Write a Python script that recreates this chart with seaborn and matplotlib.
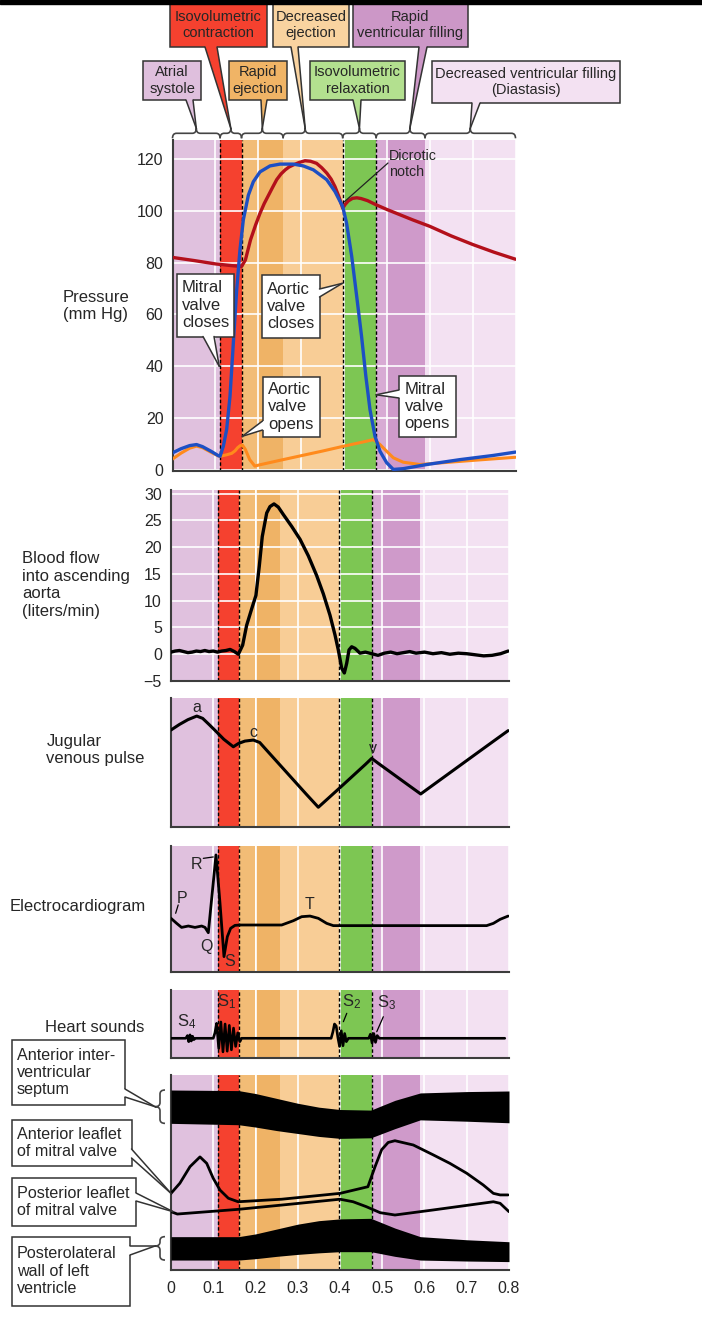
import matplotlib
matplotlib.use('Agg')
import matplotlib.pyplot as plt
from matplotlib.patches import Rectangle, Polygon, PathPatch
from matplotlib.path import Path
import seaborn as sns

# cardiac cycle phases (sec) and background colours
band_edges = [0, 0.111, 0.161, 0.2, 0.258, 0.397, 0.475, 0.5, 0.589, 0.8]
band_colors = ['#e0c1de', '#f5412f', '#f2bc76', '#efb366', '#f8cd96',
               '#7dc653', '#d8abd4', '#cf9aca', '#f3e1f2']
valve_events = [0.111, 0.161, 0.397, 0.475]

phase_labels = ['Atrial\nsystole', 'Isovolumetric\ncontraction', 'Rapid\nejection',
                'Decreased\nejection', 'Isovolumetric\nrelaxation',
                'Rapid\nventricular filling', 'Decreased ventricular filling\n(Diastasis)']
phase_bounds = [0, 0.111, 0.161, 0.258, 0.397, 0.475, 0.589, 0.8]
phase_box_colors = ['#dfbfdd', '#f5412f', '#f0b466', '#f9d3a0', '#b3e08f', '#cc97c7', '#f3e1f2']

time_ticks = [0, 0.1, 0.2, 0.3, 0.4, 0.5, 0.6, 0.7, 0.8]
time_tick_labels = ['0', '0.1', '0.2', '0.3', '0.4', '0.5', '0.6', '0.7', '0.8']
pressure_ticks = [0, 20, 40, 60, 80, 100, 120]
flow_ticks = [-5, 0, 5, 10, 15, 20, 25, 30]

# pressures (mm Hg)
aorta_t = [0, 0.05, 0.1, 0.14, 0.161, 0.17, 0.182, 0.194, 0.204, 0.214, 0.224, 0.234, 0.243, 0.253,
           0.263, 0.272, 0.282, 0.295, 0.309, 0.322, 0.336, 0.348, 0.36, 0.37, 0.379, 0.388, 0.397,
           0.403, 0.41, 0.42, 0.43, 0.44, 0.455, 0.475, 0.5, 0.53, 0.56, 0.6, 0.65, 0.7, 0.75, 0.8]
aorta_p = [82, 80.8, 79.5, 78.8, 78.5, 81, 88.8, 94.6, 99, 102.8, 106, 109.2, 112, 114.2,
           115.8, 116.9, 117.7, 118.6, 119.3, 119.1, 118.3, 116.6, 114.5, 112.2, 109.3, 105.5, 101,
           102.5, 103.8, 104.8, 105, 104.7, 103.9, 102.3, 100.5, 98.5, 96.5, 94, 90.3, 87, 84, 81.3]

lv_t = [0, 0.02, 0.04, 0.056, 0.07, 0.09, 0.107, 0.111, 0.1186, 0.1263, 0.1341, 0.1419, 0.1497,
        0.1574, 0.1652, 0.1769, 0.1885, 0.2041, 0.2274, 0.2507, 0.2818, 0.3051, 0.3285, 0.3596,
        0.379, 0.397, 0.406, 0.418, 0.4296, 0.441, 0.451, 0.4606, 0.4723, 0.484, 0.4995, 0.515,
        0.538, 0.593, 0.671, 0.748, 0.8]
lv_p = [6.6, 8.2, 9.4, 9.8, 9.0, 7.2, 5.5, 5.3, 9.2, 15.6, 28.4, 49, 69.5,
        85, 96.5, 106, 111.2, 115, 117.3, 118, 118, 117.3, 115.8, 112,
        107.4, 101.6, 95.2, 82.4, 67, 51.5, 36.1, 23.3, 13, 7.2, 2.8, 0.2,
        0.5, 2.1, 4, 5.6, 6.9]

atrium_t = [0, 0.02, 0.04, 0.056, 0.07, 0.09, 0.107, 0.111, 0.125, 0.138, 0.146, 0.152, 0.158,
            0.163, 0.17, 0.18, 0.192, 0.204, 0.25, 0.3, 0.35, 0.4, 0.45, 0.468, 0.476, 0.484,
            0.4995, 0.515, 0.538, 0.577, 0.631, 0.709, 0.8]
atrium_p = [4.2, 6.5, 8.4, 9.2, 8.6, 6.8, 5.4, 5.3, 5.8, 6.4, 7.4, 8.6, 9.4,
            9.6, 7.9, 4, 1.5, 2, 3.7, 5.5, 7.3, 9.2, 11, 11.7, 10.9, 9.8,
            7.2, 4.7, 3, 2.1, 2.8, 3.8, 4.9]

# aortic flow (liters/min)
flow_t = [0, 0.01, 0.02, 0.03, 0.04, 0.05, 0.06, 0.07, 0.08, 0.09, 0.1, 0.11, 0.12, 0.13, 0.14, 0.15,
          0.1594, 0.1696, 0.179, 0.191, 0.201, 0.209, 0.216, 0.2265, 0.2343, 0.2438,
          0.254, 0.266, 0.2856, 0.3053, 0.325, 0.3448, 0.3605, 0.3763, 0.3882, 0.396,
          0.404, 0.4103, 0.4158, 0.4213, 0.4276, 0.4355, 0.4473,
          0.46, 0.475, 0.49, 0.505, 0.52, 0.535, 0.55, 0.565, 0.58,
          0.6, 0.62, 0.64, 0.66, 0.68, 0.7, 0.72, 0.74, 0.76, 0.78, 0.798]
flow_v = [0.4, 0.6, 0.7, 0.5, 0.3, 0.4, 0.6, 0.5, 0.7, 0.5, 0.6, 0.4, 0.6, 0.7, 0.9, 0.5,
          0.0, 1.7, 5.4, 8.5, 11, 16.5, 22, 26.4, 27.6, 28.1,
          27.5, 26.1, 23.9, 21.5, 18.4, 14.7, 11.3, 7.3, 3.6, 0.8,
          -2.6, -3.5, -1.7, 0.8, 1.4, 1.1, 0.2,
          0.4, 0.1, -0.2, 0.2, 0.4, 0.1, 0.3, 0.5, 0.2,
          0.4, 0.1, 0.3, 0.0, 0.2, 0.1, -0.1, -0.3, -0.2, 0.1, 0.6]

# jugular venous pulse (relative units)
jvp_t = [0, 0.02, 0.04, 0.061, 0.075, 0.09, 0.107, 0.125, 0.1475, 0.16, 0.175, 0.195, 0.21, 0.23,
         0.26, 0.29, 0.32, 0.3487, 0.37, 0.4, 0.43, 0.46, 0.475, 0.49, 0.52, 0.56, 0.591, 0.62,
         0.66, 0.7, 0.74, 0.77, 0.798]
jvp_v = [75.2, 79.5, 83.2, 86, 84.2, 79.5, 74, 68, 62.2, 64.8, 66.6, 67.4, 65.5, 58.2,
         47.3, 36.4, 25.5, 15.3, 21.6, 30.5, 39.5, 48.5, 53.2, 49.5, 42.4, 32.9, 25.6, 32.5,
         42, 51.5, 61, 68.1, 74.7]

# electrocardiogram (relative units)
ecg_t = [0, 0.0134, 0.025, 0.041, 0.0568, 0.0726, 0.0805, 0.0883, 0.1065, 0.116, 0.1254, 0.1333,
         0.1412, 0.1515, 0.1633, 0.262, 0.2895, 0.3093, 0.329, 0.3487, 0.3685, 0.3842, 0.747,
         0.763, 0.779, 0.798]
ecg_v = [42.6, 38.6, 35.4, 36.5, 35.4, 36.5, 35.4, 31.2, 92.9, 54.5, 12.2, 28,
         34.7, 37, 37.3, 37.3, 40.7, 43.9, 44.4, 42.6, 38.6, 36.8, 36.8,
         38.6, 41.8, 44.4]

# phonocardiogram (relative units)
sound_t = [0, 0.035, 0.039, 0.042, 0.045, 0.048, 0.051, 0.054, 0.058,
           0.1, 0.104, 0.108, 0.113, 0.118, 0.123, 0.128, 0.133, 0.138, 0.143, 0.148,
           0.153, 0.158, 0.163, 0.167,
           0.379, 0.383, 0.387, 0.391, 0.395, 0.399, 0.403, 0.407, 0.411, 0.415, 0.42,
           0.468, 0.472, 0.476, 0.48, 0.484, 0.488, 0.493, 0.79]
sound_v = [29, 29, 33, 24, 34, 25, 32, 27, 29,
           29, 37, 51, 14, 53, 9, 50, 10, 48, 12, 44,
           17, 37, 24, 29,
           29, 38, 50, 47, 30, 17, 40, 18, 36, 24, 29,
           29, 35, 22, 36, 23, 33, 29, 29]

# echocardiogram (relative depth)
septum_t = [0, 0.16, 0.2, 0.25, 0.3, 0.35, 0.4, 0.473, 0.53, 0.59, 0.7, 0.8]
septum_top = [92.3, 92, 90.5, 88, 85.5, 83.5, 82.3, 82, 87, 90.8, 91.5, 91.8]
septum_bottom = [75.2, 74.5, 73.3, 71.5, 70, 68.5, 67.5, 67.8, 72.5, 77, 76.3, 75.5]
wall_t = [0, 0.16, 0.2, 0.25, 0.3, 0.35, 0.4, 0.473, 0.53, 0.59, 0.7, 0.8]
wall_top = [17.1, 17.1, 18.5, 21, 23.5, 25.3, 26.2, 26.5, 21.5, 17.1, 15.5, 14.5]
wall_bottom = [5.1, 5.1, 5.8, 7, 8, 8.8, 9.4, 9.4, 7, 5.1, 4.6, 4.3]
ant_t = [0, 0.021, 0.045, 0.0686, 0.0845, 0.1, 0.116, 0.1357, 0.159, 0.262, 0.4, 0.466, 0.483,
         0.4986, 0.514, 0.53, 0.5735, 0.621, 0.66, 0.7, 0.739, 0.763, 0.779, 0.798]
ant_v = [39.3, 44.5, 53, 58, 54.7, 47, 41, 36.8, 35, 36.3, 39.3, 42.7, 53,
         61.7, 65.4, 66.3, 64.1, 59, 54.7, 49.6, 43.6, 39.3, 38.5, 38.5]
post_t = [0, 0.015, 0.159, 0.262, 0.4, 0.431, 0.462, 0.495, 0.53, 0.621, 0.763, 0.779, 0.8]
post_v = [29.9, 28.7, 31.1, 33.3, 36.3, 35, 32.5, 29.4, 28.2, 30.8, 35, 34.2, 29.9]

sns.set_style('white')
plt.rcParams['font.family'] = ['Liberation Sans', 'DejaVu Sans']
plt.rcParams['mathtext.fontset'] = 'custom'
plt.rcParams['mathtext.rm'] = 'Liberation Sans'

W, H = 702, 1337
fig = plt.figure(figsize=(W / 100, H / 100), dpi=100)


def panel(x0, y0, x1, y1, ygrid=False):
    ax = fig.add_axes([x0 / W, 1 - y1 / H, (x1 - x0) / W, (y1 - y0) / H])
    for t0, t1, c in zip(band_edges[:-1], band_edges[1:], band_colors):
        ax.axvspan(t0, t1, color=c, lw=0, zorder=0)
    for t in valve_events:
        ax.axvline(t, color='black', lw=1.0, ls=(0, (2.5, 1.6)), zorder=2)
    ax.set_xlim(0, 0.8)
    ax.set_xticks(time_ticks)
    ax.tick_params(length=0, labelbottom=False, labelsize=11.5, pad=6.5)
    ax.grid(axis='both' if ygrid else 'x', color='white', lw=1.2)
    ax.set_axisbelow(True)
    for s in ['top', 'right']:
        ax.spines[s].set_visible(False)
    for s in ['left', 'bottom']:
        ax.spines[s].set_color('#3c3c3c')
        ax.spines[s].set_linewidth(1.5)
    return ax


# pressure
ax_p = panel(172.5, 140, 515.5, 471, ygrid=True)
sns.lineplot(x=atrium_t, y=atrium_p, ax=ax_p, color='#ff8a1c', linewidth=2.2, sort=False, estimator=None, zorder=3)
sns.lineplot(x=aorta_t, y=aorta_p, ax=ax_p, color='#b3101b', linewidth=2.4, sort=False, estimator=None, zorder=3)
sns.lineplot(x=lv_t, y=lv_p, ax=ax_p, color='#1d4fc4', linewidth=2.4, sort=False, estimator=None, zorder=4)
ax_p.set_ylim(-0.4, 127.3)
ax_p.set_yticks(pressure_ticks)

# aortic flow
ax_f = panel(171, 490, 509, 681, ygrid=True)
sns.lineplot(x=flow_t, y=flow_v, ax=ax_f, color='black', linewidth=2.4, sort=False, estimator=None, zorder=3)
ax_f.set_ylim(-5, 30.7)
ax_f.set_yticks(flow_ticks)

# jugular venous pulse
ax_j = panel(171, 698, 509, 827)
sns.lineplot(x=jvp_t, y=jvp_v, ax=ax_j, color='black', linewidth=2.2, sort=False, estimator=None, zorder=3)
ax_j.set_ylim(0, 100)
ax_j.set_yticks([])
for lab, t, v in [('a', 0.061, 92.5), ('c', 0.195, 73.5), ('v', 0.478, 61)]:
    ax_j.text(t, v, lab, ha='center', va='center', fontsize=11.5)

# ECG
ax_e = panel(171, 846, 509, 972)
sns.lineplot(x=ecg_t, y=ecg_v, ax=ax_e, color='black', linewidth=2.0, sort=False, estimator=None, zorder=3)
ax_e.set_ylim(0, 100)
ax_e.set_yticks([])
for lab, t, v in [('P', 0.025, 58.5), ('R', 0.061, 85), ('Q', 0.0845, 20), ('S', 0.1396, 8.2), ('T', 0.327, 53.7)]:
    ax_e.text(t, v, lab, ha='center', va='center', fontsize=11.5, zorder=5)
ax_e.plot([0.011, 0.017], [46.6, 53.2], color='black', lw=0.9)
ax_e.plot([0.0765, 0.1], [90.2, 91.3], color='black', lw=0.9)

# heart sounds
ax_h = panel(171, 990, 509, 1058)
sns.lineplot(x=sound_t, y=sound_v, ax=ax_h, color='black', linewidth=1.9, sort=False, estimator=None, zorder=3)
ax_h.set_ylim(0, 100)
ax_h.set_yticks([])
for n, t, v in [(4, 0.037, 53.4), (1, 0.132, 82.8), (2, 0.428, 82.8), (3, 0.51, 80.9)]:
    ax_h.text(t, v, r'$\mathregular{S_%d}$' % n, ha='center', va='center', fontsize=12, zorder=5)
ax_h.plot([0.416, 0.408], [65.7, 53.4], color='black', lw=0.9)
ax_h.plot([0.5025, 0.487], [60.7, 38.7], color='black', lw=0.9)

# echocardiogram
ax_m = panel(171, 1075, 509, 1270)
ax_m.fill_between(septum_t, septum_bottom, septum_top, color='black', lw=0, zorder=3)
ax_m.fill_between(wall_t, wall_bottom, wall_top, color='black', lw=0, zorder=3)
sns.lineplot(x=ant_t, y=ant_v, ax=ax_m, color='black', linewidth=2.0, sort=False, estimator=None, zorder=3)
sns.lineplot(x=post_t, y=post_v, ax=ax_m, color='black', linewidth=2.0, sort=False, estimator=None, zorder=3)
ax_m.set_ylim(0, 100)
ax_m.set_yticks([])
ax_m.tick_params(labelbottom=True, labelsize=11.5, pad=8)
ax_m.set_xticklabels(time_tick_labels)
ax_m.set_xlabel('Time\n(sec)', fontsize=11.5, labelpad=3, linespacing=1.3)

# overlay in pixel coordinates for annotations
over = fig.add_axes([0, 0, 1, 1])
over.set_xlim(0, W)
over.set_ylim(H, 0)
over.axis('off')
over.patch.set_alpha(0)


def to_px(ax, x, y):
    return tuple(over.transData.inverted().transform(ax.transData.transform((x, y))))


def callout(box, text, fc, side, base, tip, size=12, ha='left', ec='#333333'):
    x0, y0, x1, y1 = box
    over.add_patch(Rectangle((x0, y0), x1 - x0, y1 - y0, fc=fc, ec=ec, lw=1.1, zorder=5))
    dx, dy = {'bottom': (0, -2), 'right': (-2, 0), 'left': (2, 0)}[side]
    (bx0, by0), (bx1, by1) = base
    over.add_patch(Polygon([(bx0 + dx, by0 + dy), (bx0, by0), tip, (bx1, by1), (bx1 + dx, by1 + dy)],
                           closed=True, fc=fc, ec='none', zorder=6))
    for bx, by in base:
        over.plot([bx, tip[0]], [by, tip[1]], color=ec, lw=1.1, zorder=7)
    tx = x0 + 5.5 if ha == 'left' else (x0 + x1) / 2
    over.text(tx, (y0 + y1) / 2, text, ha=ha, va='center', fontsize=size, linespacing=1.2, zorder=8)


def hbrace(x0, x1, xt, y, h=5, r=4):
    verts = [(x0, y + h), (x0, y), (x0 + r, y), (xt - r, y), (xt, y), (xt, y - h),
             (xt, y), (xt + r, y), (x1 - r, y), (x1, y), (x1, y + h)]
    codes = [Path.MOVETO, Path.CURVE3, Path.CURVE3, Path.LINETO, Path.CURVE3, Path.CURVE3,
             Path.CURVE3, Path.CURVE3, Path.LINETO, Path.CURVE3, Path.CURVE3]
    over.add_patch(PathPatch(Path(verts, codes), fc='none', ec='#444444', lw=1.2, zorder=4))
    return xt, y - h


def vbrace(y0, y1, yt, x, h=5, r=4):
    verts = [(x + h, y0), (x, y0), (x, y0 + r), (x, yt - r), (x, yt), (x - h, yt),
             (x, yt), (x, yt + r), (x, y1 - r), (x, y1), (x + h, y1)]
    codes = [Path.MOVETO, Path.CURVE3, Path.CURVE3, Path.LINETO, Path.CURVE3, Path.CURVE3,
             Path.CURVE3, Path.CURVE3, Path.LINETO, Path.CURVE3, Path.CURVE3]
    over.add_patch(PathPatch(Path(verts, codes), fc='none', ec='#444444', lw=1.2, zorder=4))
    return x - h, yt


# phase braces and labels above the pressure panel
tip_frac = [0.5, 0.5, 0.5, 0.37, 0.5, 0.69, 0.5]
phase_boxes = [(143, 61, 201, 100), (170, 3, 267, 47), (229, 61, 287, 100), (273, 3, 349, 47),
               (310, 61, 405, 100), (353, 3, 468, 47), (432, 61, 620, 103)]
phase_bases = [(186, 193), (205, 217), (261, 267), (291, 298), (353, 361), (419, 427), (472, 480)]
for i, lab in enumerate(phase_labels):
    xa = to_px(ax_p, phase_bounds[i], 0)[0]
    xb = to_px(ax_p, phase_bounds[i + 1], 0)[0]
    tip = hbrace(xa, xb, xa + tip_frac[i] * (xb - xa), 133.3)
    box = phase_boxes[i]
    b0, b1 = phase_bases[i]
    callout(box, lab, phase_box_colors[i], 'bottom', [(b0, box[3]), (b1, box[3])], tip, size=10.5, ha='center')

over.add_patch(Rectangle((0, 0), W, 4, color='black', zorder=20))

# pressure annotations
callout((176.5, 273.5, 233.5, 336.5), 'Mitral\nvalve\ncloses', 'white', 'bottom',
        [(203, 336.5), (214, 336.5)], to_px(ax_p, 0.109, 40))
callout((261.5, 275, 319.5, 338), 'Aortic\nvalve\ncloses', 'white', 'right',
        [(319.5, 289), (319.5, 297)], to_px(ax_p, 0.396, 72))
callout((262.5, 376.5, 319.5, 437), 'Aortic\nvalve\nopens', 'white', 'left',
        [(262.5, 421), (262.5, 430)], to_px(ax_p, 0.163, 13))
callout((399, 376, 455.5, 437), 'Mitral\nvalve\nopens', 'white', 'left',
        [(399, 390), (399, 398)], to_px(ax_p, 0.475, 29))
over.text(389, 164, 'Dicrotic\nnotch', ha='left', va='center', fontsize=10.3, linespacing=1.25, zorder=8)
notch = to_px(ax_p, 0.401, 103.5)
over.plot([388, notch[0]], [163, notch[1]], color='#222222', lw=0.9, zorder=8)

# panel titles
for txt, x, y in [('Pressure\n(mm Hg)', 63, 306), ('Blood flow\ninto ascending\naorta\n(liters/min)', 22, 585),
                  ('Jugular\nvenous pulse', 46.5, 750), ('Electrocardiogram', 10, 907),
                  ('Heart sounds', 45, 1027)]:
    over.text(x, y, txt, ha='left', va='center', fontsize=12, linespacing=1.2)

# echo braces and labels
sep_y0 = to_px(ax_m, 0, septum_top[0])[1]
sep_y1 = to_px(ax_m, 0, septum_bottom[0])[1]
sep_tip = vbrace(sep_y0, sep_y1, (sep_y0 + sep_y1) / 2, 160)
wall_y0 = to_px(ax_m, 0, wall_top[0])[1]
wall_y1 = to_px(ax_m, 0, wall_bottom[0])[1]
wall_tip = vbrace(wall_y0, wall_y1, wall_y0 + 0.4 * (wall_y1 - wall_y0), 160)

callout((11.5, 1040, 125, 1105), 'Anterior inter-\nventricular\nseptum', 'white', 'right',
        [(125, 1089), (125, 1097)], sep_tip, size=11.6)
callout((11.5, 1120, 131.5, 1166), 'Anterior leaflet\nof mitral valve', 'white', 'right',
        [(131.5, 1149), (131.5, 1158)], to_px(ax_m, ant_t[0], ant_v[0]), size=11.6)
callout((11.5, 1178, 136, 1225.5), 'Posterior leaflet\nof mitral valve', 'white', 'right',
        [(136, 1193), (136, 1201)], to_px(ax_m, post_t[0] + 0.005, post_v[0]), size=11.6)
callout((11.5, 1236.5, 130, 1306), 'Posterolateral\nwall of left\nventricle', 'white', 'right',
        [(130, 1246), (130, 1255)], wall_tip, size=11.6)

fig.savefig('out.png', dpi=100)
